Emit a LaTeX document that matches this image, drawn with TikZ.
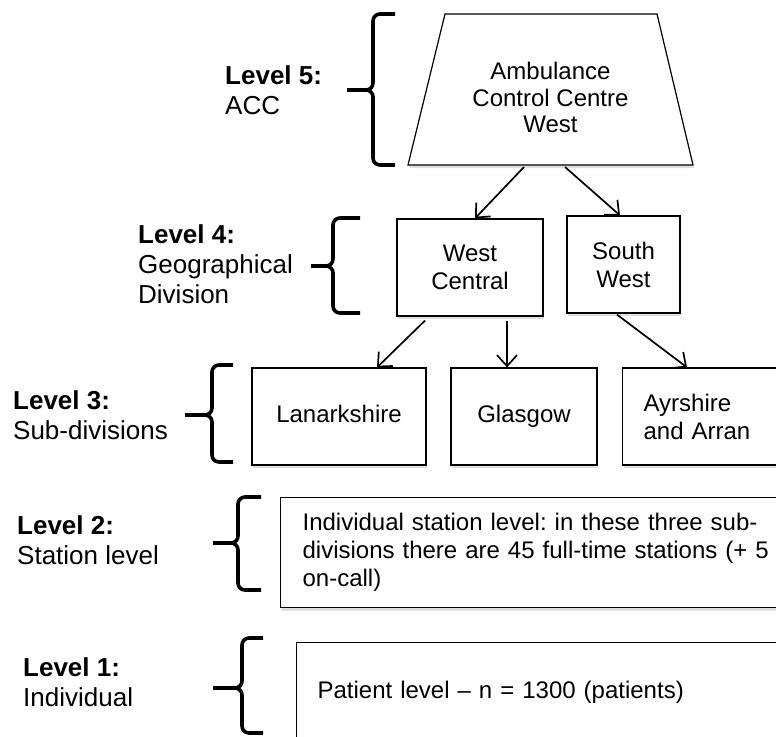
\documentclass[tikz,border=0pt]{standalone}
\usepackage{fontspec}
\setmainfont{Liberation Sans}
\usetikzlibrary{arrows.meta,shadows}
\frenchspacing

\tikzset{
	boxshadow/.style={drop shadow={shadow xshift=1pt, shadow yshift=-3pt, opacity=0.25}},
	box/.style={draw=black, line width=1.2pt, fill=white, inner sep=0pt, align=center,
		font=\fontsize{24}{28}\selectfont, boxshadow},
	levellabel/.style={anchor=west, inner sep=0pt, align=left, font=\fontsize{26}{30}\selectfont},
	levelbrace/.style={line width=3.6pt, rounded corners=7pt},
	arr/.style={line width=1.7pt, -{Straight Barb[length=11pt,width=20pt,line width=1.7pt]}}
}

% spine x, tip x, end x, top y, tip y, bottom y
\newcommand{\drawbrace}[6]{%
	\draw[levelbrace] (#3,#4) -- (#1,#4) -- (#1,#5) -- (#2,#5);
	\draw[levelbrace] (#2,#5) -- (#1,#5) -- (#1,#6) -- (#3,#6);
}

\begin{document}
\begin{tikzpicture}[x=1pt,y=-1pt]
	\useasboundingbox (0,0) rectangle (776,736);

	%level 5
	\node[levellabel] (l5) at (225,90) {\textbf{Level 5:}\\ACC};
	\drawbrace{373}{347}{395}{14}{90}{165}
	\filldraw[fill=white, draw=black, line width=1.2pt, boxshadow]
		(408,165) -- (445,14) -- (657,14) -- (693,165) -- cycle;
	\node[align=center, inner sep=0pt, font=\fontsize{24}{26.5}\selectfont]
		(acc) at (550.5,97.5) {Ambulance\\Control Centre\\West};
	\coordinate (accl) at (524,167);
	\coordinate (accr) at (565,167);

	%level 4
	\node[levellabel] (l4) at (138,264) {\textbf{Level 4:}\\Geographical\\Division};
	\drawbrace{333}{311}{360}{218}{266}{313}
	\node[box, minimum width=146pt, minimum height=97pt] (wc) at (470,267.5) {West\\Central};
	\node[box, minimum width=113pt, minimum height=97pt] (sw) at (623.5,264.5) {South\\West};

	%level 3
	\node[levellabel] (l3) at (13,415) {\textbf{Level 3:}\\Sub-divisions};
	\drawbrace{212}{185}{233}{365}{415}{462}
	\node[box, minimum width=174pt, minimum height=97pt, text height=17pt, text depth=5pt] (lan) at (339,416.5) {Lanarkshire};
	\node[box, minimum width=146pt, minimum height=97pt, text height=17pt, text depth=5pt] (gla) at (524,416.5) {Glasgow};
	\node[box, anchor=west, minimum height=97pt, text width=150pt, inner xsep=21pt, align=left]
		(ayr) at (622,416.5) {Ayrshire\\and Arran};

	%level 2
	\node[levellabel] (l2) at (17,540) {\textbf{Level 2:}\\Station level};
	\drawbrace{238}{213}{261}{497}{543}{590}
	\node[box, anchor=north west, minimum height=110pt, text width=500pt, inner xsep=22pt, align=left]
		(stn) at (280,497) {Individual station level: in these three sub-\\divisions there are 45 full-time stations (+ 5\\on-call)};

	%level 1
	\node[levellabel] (l1) at (23,682) {\textbf{Level 1:}\\Individual};
	\drawbrace{242}{213}{263}{638}{688}{733}
	\node[box, anchor=north west, minimum height=100pt, text width=480pt, inner xsep=21pt, align=left]
		(pat) at (296,642) {Patient level -- n = 1300 (patients)};

	%arrows
	\draw[arr] (accl) -- ([xshift=5pt]wc.north);
	\draw[arr] (accr) -- ([xshift=-3.5pt]sw.north);
	\draw[arr] ([xshift=-45pt,yshift=-4pt]wc.south) -- ([xshift=38pt]lan.north);
	\draw[arr] ([xshift=37pt,yshift=-4pt]wc.south) -- ([xshift=-17pt]gla.north);
	\draw[arr] ([xshift=-6.5pt,yshift=-1pt]sw.south) -- ([xshift=65pt]ayr.north west);
\end{tikzpicture}
\end{document}
